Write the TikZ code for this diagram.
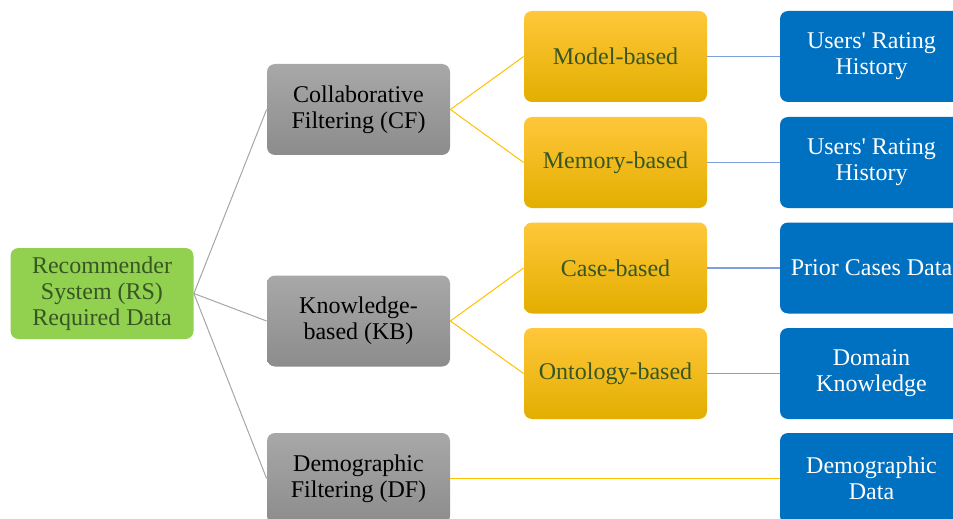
\documentclass[tikz,border=0pt]{standalone}
\usepackage{fontspec}
\setmainfont{Liberation Serif}

\definecolor{rsgreen}{HTML}{92D050}
\definecolor{rstext}{HTML}{375623}
\definecolor{graytop}{HTML}{A8A8A8}
\definecolor{graybot}{HTML}{8C8C8C}
\definecolor{goldtop}{HTML}{FFC73A}
\definecolor{goldmid}{HTML}{FFC000}
\definecolor{goldbot}{HTML}{E3AE00}
\definecolor{datablue}{HTML}{0070C0}
\definecolor{linkgray}{HTML}{A6A6A6}
\definecolor{linkgold}{HTML}{FFC000}
\definecolor{linkblue}{HTML}{7E9FDC}

\begin{document}
\begin{tikzpicture}[x=0.5pt,y=-0.5pt,
  box/.style={rounded corners=4pt, minimum width=91.5pt, minimum height=45.5pt,
    align=center, inner sep=2pt, font=\fontsize{12}{13}\selectfont},
  rootbox/.style={box, fill=rsgreen, text=rstext},
  catbox/.style={box, top color=graytop, bottom color=graybot, text=black},
  methbox/.style={box, top color=goldtop, middle color=goldmid, bottom color=goldbot, text=rstext},
  databox/.style={box, fill=datablue, text=white},
  graylink/.style={draw=linkgray, line width=0.5pt},
  goldlink/.style={draw=linkgold, line width=0.5pt},
  bluelink/.style={draw=linkblue, line width=0.6pt}]

\clip (0,0) rectangle (953,519);

% root
\node[rootbox] (rs) at (102,293.5) {Recommender\\System (RS)\\Required Data};

% categories
\node[catbox] (cf) at (358.5,109.5) {Collaborative\\Filtering (CF)};
\node[catbox] (kb) at (358.5,321) {Knowledge-\\based (KB)};
\node[catbox] (df) at (358.5,478.5) {Demographic\\Filtering (DF)};

% methods
\node[methbox] (model) at (615.5,56.5) {Model-based};
\node[methbox] (memory) at (615.5,162.5) {Memory-based};
\node[methbox] (case) at (615.5,268) {Case-based};
\node[methbox] (onto) at (615.5,373.5) {Ontology-based};

% data
\node[databox] (hist1) at (871.5,56.5) {Users\textquotesingle{} Rating\\History};
\node[databox] (hist2) at (871.5,162.5) {Users\textquotesingle{} Rating\\History};
\node[databox] (cases) at (871.5,268) {Prior Cases Data};
\node[databox] (domain) at (871.5,373.5) {Domain\\Knowledge};
\node[databox] (demo) at (871.5,478.5) {Demographic\\Data};

\draw[graylink] (rs.east) -- (cf.west);
\draw[graylink] (rs.east) -- (kb.west);
\draw[graylink] (rs.east) -- (df.west);

\draw[goldlink] (cf.east) -- (model.west);
\draw[goldlink] (cf.east) -- (memory.west);
\draw[goldlink] (kb.east) -- (case.west);
\draw[goldlink] (kb.east) -- (onto.west);
\draw[goldlink] (df.east) -- (demo.west);

\draw[bluelink] (model) -- (hist1);
\draw[bluelink] (memory) -- (hist2);
\draw[bluelink] (case) -- (cases);
\draw[bluelink] (onto) -- (domain);
\end{tikzpicture}
\end{document}
